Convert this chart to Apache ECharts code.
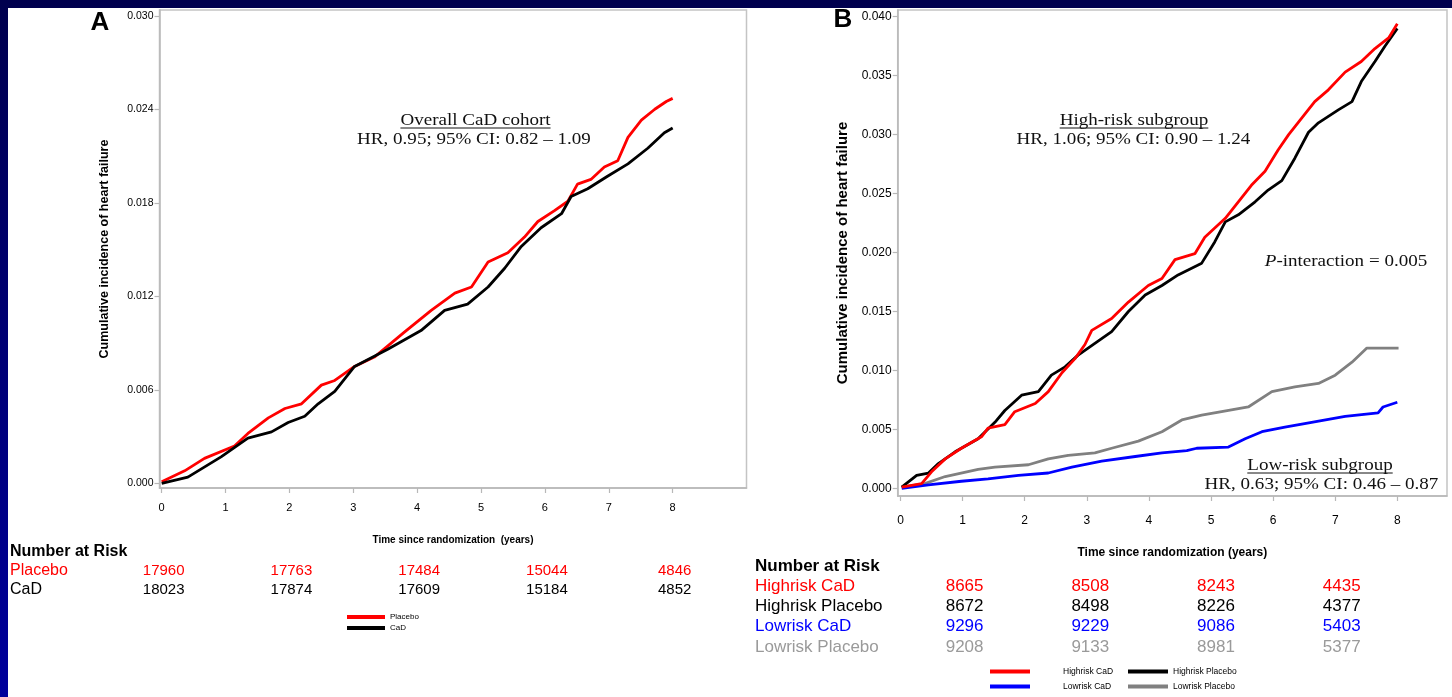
<!DOCTYPE html>
<html><head><meta charset="utf-8">
<script src="https://cdn.jsdelivr.net/npm/echarts@6/dist/echarts.min.js"></script>
<style>
html,body{margin:0;padding:0;width:1452px;height:697px;overflow:hidden;background:linear-gradient(180deg,#00004e 0%,#00009c 100%);}
#paper{position:absolute;left:8px;top:8px;right:0;bottom:0;background:#fff;}
#chart{position:absolute;left:0;top:0;width:1452px;height:697px;}
</style></head><body><div id="paper"></div><div id="chart"></div>
<script>
// ---------- data ----------
const xTicks = [0,1,2,3,4,5,6,7,8];
const yTicksA = [0,0.006,0.012,0.018,0.024,0.030];
const yTicksB = [0,0.005,0.010,0.015,0.020,0.025,0.030,0.035,0.040];

const placeboA = [[0,0.0001],[0.36,0.0008],[0.67,0.0016],[1.14,0.0024],[1.35,0.0032],[1.67,0.0042],[1.93,0.0048],[2.19,0.0051],[2.50,0.0063],[2.71,0.0066],[3.02,0.0075],[3.33,0.0081],[3.80,0.0097],[4.22,0.0111],[4.59,0.0122],[4.85,0.0126],[5.11,0.0142],[5.42,0.0148],[5.68,0.0158],[5.89,0.0168],[6.15,0.0175],[6.36,0.0181],[6.51,0.0192],[6.72,0.0195],[6.93,0.0203],[7.14,0.0207],[7.30,0.0222],[7.51,0.0233],[7.72,0.0240],[7.90,0.0245],[8.0,0.0247]];
const cadA = [[0,0],[0.41,0.0004],[0.93,0.0017],[1.35,0.0029],[1.72,0.0033],[1.98,0.0039],[2.24,0.0043],[2.45,0.0051],[2.71,0.0059],[3.02,0.0075],[3.54,0.0086],[4.06,0.0098],[4.43,0.0111],[4.79,0.0115],[5.11,0.0126],[5.37,0.0138],[5.63,0.0152],[5.94,0.0164],[6.26,0.0173],[6.41,0.0184],[6.67,0.0189],[6.98,0.0197],[7.30,0.0205],[7.61,0.0215],[7.87,0.0225],[8.0,0.0228]];

const highCaD = [[0.02,0.0001],[0.34,0.0004],[0.50,0.0014],[0.72,0.0025],[0.98,0.0034],[1.31,0.0044],[1.41,0.0051],[1.68,0.0054],[1.84,0.0065],[2.17,0.0072],[2.38,0.0082],[2.60,0.0098],[2.81,0.0110],[2.97,0.0122],[3.08,0.0134],[3.40,0.0144],[3.67,0.0158],[3.99,0.0172],[4.21,0.0178],[4.42,0.0194],[4.74,0.0199],[4.90,0.0213],[5.23,0.0229],[5.44,0.0243],[5.65,0.0257],[5.87,0.0269],[6.08,0.0287],[6.25,0.0300],[6.46,0.0314],[6.67,0.0328],[6.89,0.0338],[7.16,0.0353],[7.42,0.0362],[7.64,0.0373],[7.86,0.0382],[8.0,0.0394]];
const highPlacebo = [[0.02,0.0001],[0.26,0.0011],[0.45,0.0013],[0.61,0.0021],[0.88,0.0031],[1.25,0.0042],[1.52,0.0056],[1.68,0.0066],[1.95,0.0079],[2.22,0.0082],[2.43,0.0096],[2.65,0.0103],[2.86,0.0113],[3.13,0.0123],[3.40,0.0133],[3.67,0.0150],[3.94,0.0164],[4.21,0.0172],[4.47,0.0181],[4.85,0.0191],[5.06,0.0209],[5.23,0.0226],[5.44,0.0232],[5.71,0.0243],[5.92,0.0253],[6.14,0.0261],[6.35,0.0280],[6.57,0.0302],[6.73,0.0310],[7.05,0.0321],[7.27,0.0328],[7.42,0.0345],[7.64,0.0362],[7.80,0.0375],[8.0,0.0390]];
const lowCaD = [[0.02,0.0000],[0.45,0.0003],[0.98,0.0006],[1.41,0.0008],[1.90,0.0011],[2.38,0.0013],[2.76,0.0018],[3.24,0.0023],[3.78,0.0027],[4.21,0.0030],[4.61,0.0032],[4.77,0.0034],[5.28,0.0035],[5.55,0.0042],[5.82,0.0048],[6.19,0.0052],[6.62,0.0056],[7.16,0.0061],[7.69,0.0064],[7.77,0.0069],[8.0,0.0073]];
const lowPlacebo = [[0.02,0.0001],[0.39,0.0004],[0.72,0.0010],[1.25,0.0016],[1.52,0.0018],[2.06,0.0020],[2.38,0.0025],[2.70,0.0028],[3.13,0.0030],[3.40,0.0034],[3.83,0.0040],[4.21,0.0048],[4.53,0.0058],[4.85,0.0062],[5.17,0.0065],[5.60,0.0069],[5.98,0.0082],[6.35,0.0086],[6.73,0.0089],[7.00,0.0096],[7.27,0.0107],[7.51,0.0119],[8.02,0.0119]];

const riskTimesA = [0,2,4,6,8];
const riskLabelsA = ['Placebo','CaD'];
const riskA = [[17960,17763,17484,15044,4846],[18023,17874,17609,15184,4852]];
const riskTimesB = [1,3,5,7];
const riskLabelsB = ['Highrisk CaD','Highrisk Placebo','Lowrisk CaD','Lowrisk Placebo'];
const riskB = [[8665,8508,8243,4435],[8672,8498,8226,4377],[9296,9229,9086,5403],[9208,9133,8981,5377]];

// ---------- styles ----------
const SANS = '"Liberation Sans", Arial, sans-serif';
const SERIF = '"Liberation Serif", "Times New Roman", serif';
const AX = '#b8b8b8';
const RED = '#ff0000', BLACK = '#000000', BLUE = '#0000ff', GRAY = '#808080';
const riskColorsA = [RED, BLACK];
const riskColorsB = [RED, BLACK, BLUE, '#9a9a9a'];

function xAxisCfg(grid, min, max, fs, margin) {
  return {type:'value', gridIndex:grid, min:min, max:max,
    axisLine:{show:true, onZero:false, lineStyle:{color:AX, width:1.5}},
    axisTick:{show:true, length:5, lineStyle:{color:AX, width:1.2}, customValues:xTicks},
    axisLabel:{customValues:xTicks, color:'#000', fontSize:fs, fontFamily:SANS, margin:margin},
    splitLine:{show:false}};
}
function yAxisCfg(grid, min, max, ticks, fs) {
  return {type:'value', gridIndex:grid, min:min, max:max,
    axisLine:{show:true, onZero:false, lineStyle:{color:AX, width:1.5}},
    axisTick:{show:true, length:5, lineStyle:{color:AX, width:1.2}, customValues:ticks},
    axisLabel:{customValues:ticks, color:'#000', fontSize:fs, fontFamily:SANS, margin:6,
      formatter:function(v){return v.toFixed(3);}},
    splitLine:{show:false}};
}
function lineS(name, data, color, xi, w) {
  return {name:name, type:'line', xAxisIndex:xi, yAxisIndex:xi, data:data, showSymbol:false, symbol:'none',
    lineStyle:{color:color, width:w}, itemStyle:{color:color}, color:color, animation:false, z:3};
}

const chart = echarts.init(document.getElementById('chart'), null, {renderer:'canvas'});
const xA = xAxisCfg(0, -0.034, 9.156, 11, 14);
xA.name = 'Time since randomization  (years)'; xA.nameLocation='middle'; xA.nameGap=47;
xA.nameTextStyle = {color:'#000', fontSize:10, fontWeight:'bold', fontFamily:SANS, verticalAlign:'top'};
const xB = xAxisCfg(1, -0.045, 8.80, 12, 19);
xB.name = 'Time since randomization (years)'; xB.nameLocation='middle'; xB.nameGap=51;
xB.nameTextStyle = {color:'#000', fontSize:12, fontWeight:'bold', fontFamily:SANS, verticalAlign:'top'};
const yA = yAxisCfg(0, -0.0003, 0.03037, yTicksA, 10.5);
yA.name = 'Cumulative incidence of heart failure'; yA.nameLocation='middle'; yA.nameGap=48;
yA.nameTextStyle = {color:'#000', fontSize:12.5, fontWeight:'bold', fontFamily:SANS};
const yB = yAxisCfg(1, -0.00065, 0.04057, yTicksB, 12);
yB.name = 'Cumulative incidence of heart failure'; yB.nameLocation='middle'; yB.nameGap=47;
yB.nameTextStyle = {color:'#000', fontSize:15, fontWeight:'bold', fontFamily:SANS};

chart.setOption({
  animation:false,
  backgroundColor:'transparent',
  grid:[
    {left:159.5, top:10, width:587, height:478, show:true, borderColor:'#c4c4c4', borderWidth:1.5, backgroundColor:'transparent'},
    {left:897.7, top:10, width:549.3, height:486, show:true, borderColor:'#c4c4c4', borderWidth:1.5, backgroundColor:'transparent'}
  ],
  xAxis:[xA, xB],
  yAxis:[yA, yB],
  legend:[
    {data:['Placebo','CaD'], orient:'vertical', left:347, top:613, padding:0, itemWidth:38, itemHeight:4, itemGap:3, icon:'rect',
      textStyle:{fontSize:8, fontFamily:SANS, color:'#000'}, selectedMode:false},
    {data:['Highrisk CaD','Lowrisk CaD'], orient:'vertical', left:990, top:667, padding:0, height:30, itemWidth:40, itemHeight:4, itemGap:6, icon:'rect',
      textStyle:{fontSize:8.5, fontFamily:SANS, color:'#000', padding:[0,0,0,28]}, selectedMode:false},
    {data:['Highrisk Placebo','Lowrisk Placebo'], orient:'vertical', left:1128, top:667, padding:0, height:30, itemWidth:40, itemHeight:4, itemGap:6, icon:'rect',
      textStyle:{fontSize:8.5, fontFamily:SANS, color:'#000'}, selectedMode:false}
  ],
  series:[
    lineS('Placebo', placeboA, RED, 0, 2.8),
    lineS('CaD', cadA, BLACK, 0, 2.8),
    lineS('Lowrisk Placebo', lowPlacebo, GRAY, 1, 2.8),
    lineS('Lowrisk CaD', lowCaD, BLUE, 1, 2.8),
    lineS('Highrisk Placebo', highPlacebo, BLACK, 1, 2.8),
    lineS('Highrisk CaD', highCaD, RED, 1, 2.8)
  ]
});

// ---------- texts ----------
const mctx = document.createElement('canvas').getContext('2d');
function textW(font, s){ mctx.font = font; return mctx.measureText(s).width; }
function T(x, y, text, font, fill, align, extra) {
  const el = {type:'text', x:x, y:y, z:10, silent:true,
    style:{text:text, font:font, fill:fill, align:align||'left', textAlign:align||'left', verticalAlign:'middle', textVerticalAlign:'middle'}};
  if (extra) Object.assign(el, extra);
  return el;
}
const SERIF_FONT = '17px ' + SERIF;
const SX = 1.12;
const g = [];
g.push(T(100, 23, 'A', 'bold 26px ' + SANS, '#000', 'center'));
g.push(T(843, 20, 'B', 'bold 26px ' + SANS, '#000', 'center'));
function heading(cx, cy, s) {
  g.push(T(cx, cy, s, SERIF_FONT, '#111', 'center', {scaleX:SX}));
  const w = textW(SERIF_FONT, s) * SX;
  g.push({type:'line', z:10, silent:true, shape:{x1:cx-w/2, y1:cy+7, x2:cx+w/2, y2:cy+7}, style:{stroke:'#111', lineWidth:1}});
}
heading(475.5, 121, 'Overall CaD cohort');
g.push(T(474, 140, 'HR, 0.95; 95% CI: 0.82 \u2013 1.09', SERIF_FONT, '#111', 'center', {scaleX:SX}));
heading(1134, 121, 'High-risk subgroup');
g.push(T(1133.5, 140, 'HR, 1.06; 95% CI: 0.90 \u2013 1.24', SERIF_FONT, '#111', 'center', {scaleX:SX}));
heading(1320, 466, 'Low-risk subgroup');
g.push(T(1321.5, 485, 'HR, 0.63; 95% CI: 0.46 \u2013 0.87', SERIF_FONT, '#111', 'center', {scaleX:SX}));
g.push({type:'text', x:1346, y:262, z:10, silent:true, scaleX:SX,
  style:{text:'{i|P}-interaction = 0.005', font:SERIF_FONT, fill:'#111', align:'center', textAlign:'center', verticalAlign:'middle', textVerticalAlign:'middle',
    rich:{i:{font:'italic 17px ' + SERIF, fill:'#111'}}}});

// number at risk A
g.push(T(10, 552, 'Number at Risk', 'bold 16px ' + SANS, '#000', 'left'));
riskLabelsA.forEach(function(lab, r){
  const y = 571 + r*19;
  g.push(T(10, y, lab, '16px ' + SANS, riskColorsA[r], 'left'));
  riskA[r].forEach(function(v, i){
    const px = chart.convertToPixel({xAxisIndex:0}, riskTimesA[i]);
    g.push(T(px + 2, y, String(v), '15px ' + SANS, riskColorsA[r], 'center'));
  });
});
// number at risk B
g.push(T(755, 566, 'Number at Risk', 'bold 17px ' + SANS, '#000', 'left'));
riskLabelsB.forEach(function(lab, r){
  const y = 586 + r*20.3;
  g.push(T(755, y, lab, '17px ' + SANS, riskColorsB[r], 'left'));
  riskB[r].forEach(function(v, i){
    const px = chart.convertToPixel({xAxisIndex:1}, riskTimesB[i]);
    g.push(T(px + 2 + i*1.5, y, String(v), '17px ' + SANS, riskColorsB[r], 'center'));
  });
});
chart.setOption({graphic:g});
</script></body></html>
